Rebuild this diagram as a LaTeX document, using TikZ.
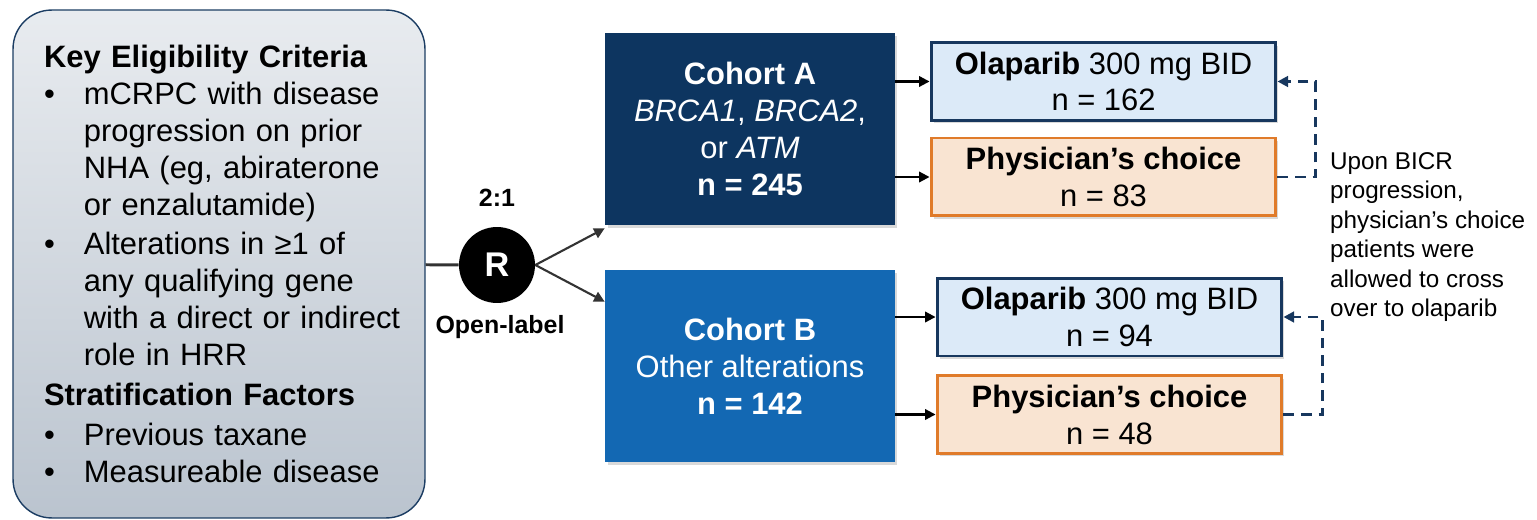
\documentclass[tikz,border=0pt]{standalone}
\usepackage{fontspec}
\setmainfont{Liberation Sans}
\usetikzlibrary{arrows.meta,shadows}

\definecolor{navy}{HTML}{0D3560}
\definecolor{midblue}{HTML}{1368B3}
\definecolor{paleblue}{HTML}{DCEAF8}
\definecolor{edgeblue}{HTML}{17375E}
\definecolor{peach}{HTML}{F9E4D2}
\definecolor{edgeorange}{HTML}{E07B2A}
\definecolor{critline}{HTML}{1C3D63}

\newcommand\boxfont{\fontsize{17.6}{21}\selectfont}
\newcommand\notefont{\fontsize{13.8}{16.8}\selectfont}
\newcommand\bul{\makebox[22.7pt][l]{\textbullet}}
\newcommand\ind{\hspace*{22.7pt}}

\begin{document}
\begin{tikzpicture}[x=0.02cm,y=-0.02cm,
    critbox/.style={draw=critline,line width=0.8pt,rounded corners=22pt,
        top color=white!90!critline,bottom color=black!5!critline!30,
        text width=7cm,inner xsep=0.62cm,minimum height=10.16cm,align=left,font=\boxfont},
    cohort/.style={minimum width=5.8cm,minimum height=3.84cm,text=white,align=center,
        font=\boxfont,drop shadow={shadow xshift=0.05cm,shadow yshift=-0.06cm,opacity=0.3}},
    armbox/.style={line width=1.7pt,minimum width=6.9cm,minimum height=1.56cm,align=center,
        font=\boxfont,drop shadow={shadow xshift=0.05cm,shadow yshift=-0.06cm,opacity=0.3}},
    olabox/.style={armbox,draw=edgeblue,fill=paleblue},
    phybox/.style={armbox,draw=edgeorange,fill=peach},
    arr/.style={-{Triangle[length=6pt,width=6pt]},line width=1.2pt},
    cross/.style={-{Triangle[length=6pt,width=6pt]},line width=1.6pt,draw=edgeblue,
        dash pattern=on 6pt off 4pt}]
  \useasboundingbox (0,0) rectangle (1537,520);

  \node[critbox] (crit) at (219,264) {%
    {\bfseries Key Eligibility Criteria}\\
    \bul mCRPC with disease\\
    \ind progression on prior\\
    \ind NHA (eg, abiraterone\\
    \ind or enzalutamide)\\[1.5pt]
    \bul Alterations in ≥1 of\\
    \ind any qualifying gene\\
    \ind\mbox{with a direct or indirect}\\
    \ind role in HRR\\[2pt]
    {\bfseries Stratification Factors}\\[1.5pt]
    \bul Previous taxane\\
    \bul Measureable disease};

  \node[circle,fill=black,minimum size=1.52cm,text=white,font=\fontsize{19.5}{22}\selectfont\bfseries] (R) at (497,265) {R};
  \node[font=\fontsize{14.2}{17}\selectfont\bfseries] (ratio) at (497,198) {2:1};
  \node[font=\fontsize{14.2}{17}\selectfont\bfseries] (open) at (500,327) {Open-label};

  \node[cohort,fill=navy] (cohA) at (750,129) {{\bfseries Cohort A}\\ \textit{BRCA1}, \textit{BRCA2},\\ or \textit{ATM}\\ {\bfseries n = 245}};
  \node[cohort,fill=midblue] (cohB) at (750,366) {{\bfseries Cohort B}\\ Other alterations\\ {\bfseries n = 142}};

  \node[olabox] (olaA) at (1103.5,81.5) {{\bfseries Olaparib} 300 mg BID\\ n = 162};
  \node[phybox] (phyA) at (1103.5,177) {{\bfseries Physician’s choice}\\ n = 83};
  \node[olabox] (olaB) at (1109.5,317) {{\bfseries Olaparib} 300 mg BID\\ n = 94};
  \node[phybox] (phyB) at (1109.5,414.5) {{\bfseries Physician’s choice}\\ n = 48};

  \node[anchor=west,align=left,font=\notefont] (note) at (1324,237) {Upon BICR\\progression,\\physician’s choice\\patients were\\allowed to cross\\over to olaparib};

  % randomisation
  \draw[line width=1.7pt,draw=black!80] (crit) -- (R);
  \draw[arr,draw=black!80,fill=black!80] (R.east) -- ([yshift=-0.06cm]cohA.south west);
  \draw[arr,draw=black!80,fill=black!80] (R.east) -- ([yshift=-0.64cm]cohB.north west);

  % cohorts to arms
  \draw[arr] (cohA.east |- olaA) -- (olaA.west);
  \draw[arr] (cohA.east |- phyA) -- (phyA.west);
  \draw[arr] (cohB.east |- olaB) -- (olaB.west);
  \draw[arr] (cohB.east |- phyB) -- (phyB.west);

  % crossover
  \draw[cross] (phyA.east) -- ++(38,0) |- (olaA.east);
  \draw[cross] (phyB.east) -- ++(39,0) |- (olaB.east);
\end{tikzpicture}
\end{document}
